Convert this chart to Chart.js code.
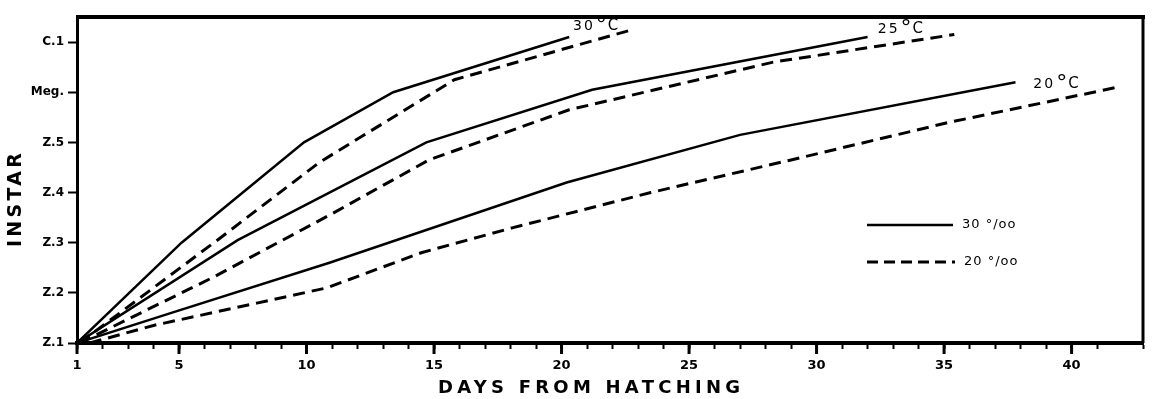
<!DOCTYPE html>
<html><head><meta charset="utf-8">
<script src="https://cdn.jsdelivr.net/npm/chart.js@4/dist/chart.umd.min.js"></script>
<style>html,body{margin:0;padding:0;background:#fff;}#wrap{width:1156px;height:399px;}</style>
</head><body><div id="wrap"><canvas id="c" width="1156" height="399"></canvas></div>
<script>
// ---- data ----
const instarLabels = ['Z.1','Z.2','Z.3','Z.4','Z.5','Meg.','C.1'];
const xTickLabels = [1,5,10,15,20,25,30,35,40];
const salinityLabels = ['30 °/oo','20 °/oo'];
const tempLabels = ['30°C','25°C','20°C'];

const days30Solid = [1, 5.1, 9.9, 13.4, 20.3];
const inst30Solid = [1, 3.0, 5.0, 6.0, 7.1];
const days30Dash  = [1.1, 6.5, 10.5, 15.8, 22.8];
const inst30Dash  = [1, 3.05, 4.6, 6.25, 7.25];

const days25Solid = [1, 7.3, 14.7, 21.2, 32.0];
const inst25Solid = [1, 3.05, 5.0, 6.05, 7.1];
const days25Dash  = [1.1, 6.3, 10.9, 14.8, 20.3, 28.3, 35.4];
const inst25Dash  = [1, 2.3, 3.55, 4.65, 5.65, 6.6, 7.15];

const days20Solid = [1, 4.7, 10.9, 20.2, 27.0, 37.8];
const inst20Solid = [1, 1.6, 2.6, 4.2, 5.15, 6.2];
const days20Dash  = [1.5, 4.0, 8.1, 10.8, 14.5, 18.1, 23.5, 29.0, 35.2, 41.8];
const inst20Dash  = [1, 1.35, 1.8, 2.1, 2.8, 3.3, 4.0, 4.65, 5.4, 6.1];

const pts = (xs, ys) => xs.map((x, i) => ({x, y: ys[i]}));
const solidStyle = {borderColor:'#000', borderWidth:2.5, pointRadius:0, tension:0, fill:false};
const dashStyle  = {borderColor:'#000', borderWidth:3, borderDash:[12,7], pointRadius:0, tension:0, fill:false};

const datasets = [
  {label:'30°C, 30‰', data:pts(days30Solid, inst30Solid), ...solidStyle},
  {label:'30°C, 20‰', data:pts(days30Dash, inst30Dash), ...dashStyle},
  {label:'25°C, 30‰', data:pts(days25Solid, inst25Solid), ...solidStyle},
  {label:'25°C, 20‰', data:pts(days25Dash, inst25Dash), ...dashStyle},
  {label:'20°C, 30‰', data:pts(days20Solid, inst20Solid), ...solidStyle},
  {label:'20°C, 20‰', data:pts(days20Dash, inst20Dash), ...dashStyle}
];

const FONT = '"DejaVu Sans", sans-serif';

const decor = {
  id:'decor',
  afterDraw(chart, args, opts){
    const {ctx, chartArea:a, scales:{x, y}} = chart;
    ctx.save();
    ctx.strokeStyle = '#000'; ctx.fillStyle = '#000';
    // frame top + right
    ctx.lineWidth = 4;
    ctx.beginPath(); ctx.moveTo(a.left - 1, a.top); ctx.lineTo(a.right + 2, a.top); ctx.stroke();
    ctx.lineWidth = 3;
    ctx.beginPath(); ctx.moveTo(a.right, a.top); ctx.lineTo(a.right, a.bottom); ctx.stroke();
    // major x tick extensions
    ctx.lineWidth = 3;
    xTickLabels.forEach(v => {
      const px = x.getPixelForValue(v);
      ctx.beginPath(); ctx.moveTo(px, a.bottom); ctx.lineTo(px, a.bottom + 11); ctx.stroke();
    });
    // temperature labels
    opts.temps.forEach((t, i) => {
      const px = x.getPixelForValue(t.x), py = y.getPixelForValue(t.y);
      const txt = tempLabels[i];
      const num = txt.slice(0, 2), deg = txt.slice(2, 3), unit = txt.slice(3);
      ctx.textBaseline = 'alphabetic'; ctx.textAlign = 'left';
      ctx.font = '14px ' + FONT;
      ctx.letterSpacing = '2px';
      ctx.fillText(num, px, py);
      let w = ctx.measureText(num).width + 1;
      ctx.letterSpacing = '0px';
      ctx.font = '22px ' + FONT;
      ctx.fillText(deg, px + w, py + 2);
      w += ctx.measureText(deg).width + 1;
      ctx.font = '15px ' + FONT;
      ctx.fillText(unit, px + w, py);
    });
    // legend
    const L = opts.legend;
    ctx.lineWidth = 2.5; ctx.setLineDash([]);
    ctx.beginPath(); ctx.moveTo(L.x0, L.y1); ctx.lineTo(L.x1, L.y1); ctx.stroke();
    ctx.lineWidth = 3; ctx.setLineDash([11,6]);
    ctx.beginPath(); ctx.moveTo(L.x0, L.y2); ctx.lineTo(L.x1 + 2, L.y2); ctx.stroke();
    ctx.setLineDash([]);
    ctx.font = '13px ' + FONT; ctx.textBaseline = 'middle'; ctx.letterSpacing = '1px';
    ctx.fillText(salinityLabels[0], L.x1 + 9, L.y1);
    ctx.fillText(salinityLabels[1], L.x1 + 11, L.y2);
    // axis titles
    const drawSpaced = (text, cx, cy, font, width, rot) => {
      ctx.save();
      ctx.translate(cx, cy); ctx.rotate(rot);
      ctx.font = font; ctx.letterSpacing = '0px';
      const w0 = ctx.measureText(text).width;
      const sp = (width - w0) / (text.length - 1);
      ctx.letterSpacing = sp + 'px';
      ctx.textAlign = 'left'; ctx.textBaseline = 'middle';
      ctx.fillText(text, -width / 2, 0);
      ctx.restore();
    };
    drawSpaced('DAYS FROM HATCHING', 589, 388, 'bold 18px ' + FONT, 302, 0);
    drawSpaced('INSTAR', 16, 200, 'bold 19px ' + FONT, 94, -Math.PI / 2);
    ctx.restore();
  }
};

new Chart(document.getElementById('c'), {
  type:'scatter',
  data:{datasets: datasets.map(d => ({...d, showLine:true}))},
  plugins:[decor],
  options:{
    responsive:false, animation:false, devicePixelRatio:1,
    layout:{padding:{top:17, right:13, left:0, bottom:0}},
    plugins:{
      legend:{display:false}, tooltip:{enabled:false},
      decor:{
        temps:[{x:20.45, y:7.24}, {x:32.4, y:7.18}, {x:38.5, y:6.08}],
        legend:{x0:867, x1:953, y1:225, y2:262}
      }
    },
    scales:{
      x:{
        type:'linear', position:'bottom', min:1, max:42.8,
        afterFit: s => { s.height = 56; },
        ticks:{stepSize:1, autoSkip:false, maxRotation:0, padding:9, color:'#000',
          font:{family:FONT, size:13, weight:'bold'},
          callback: v => xTickLabels.includes(v) ? String(v) : ''},
        grid:{drawOnChartArea:false, tickLength:6, tickWidth:2, tickColor:'#000'},
        border:{display:true, width:4, color:'#000'}
      },
      y:{
        type:'linear', min:1, max:7.5,
        afterFit: s => { s.width = 77; },
        afterBuildTicks: s => { s.ticks = s.ticks.filter(t => Number.isInteger(t.value)); },
        ticks:{stepSize:1, padding:4, color:'#000',
          font:{family:FONT, size:12, weight:'bold'},
          callback: v => instarLabels[v - 1] ?? ''},
        grid:{drawOnChartArea:false, tickLength:9, tickWidth:2, tickColor:'#000'},
        border:{display:true, width:3, color:'#000'}
      }
    }
  }
});
</script></body></html>
